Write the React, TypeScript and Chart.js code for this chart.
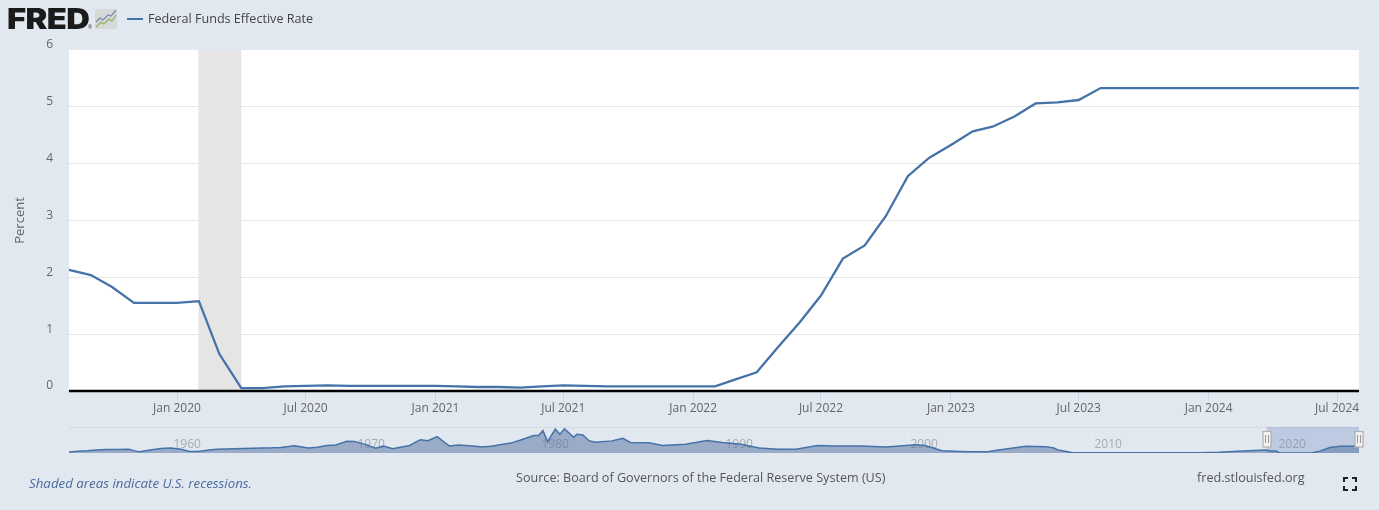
import React, { useEffect, useRef } from "react";
import { Chart, registerables } from "chart.js";

Chart.register(...registerables);

const seriesName = "Federal Funds Effective Rate";
const months = [
  "2019-08","2019-09","2019-10","2019-11","2019-12",
  "2020-01","2020-02","2020-03","2020-04","2020-05","2020-06","2020-07","2020-08","2020-09","2020-10","2020-11","2020-12",
  "2021-01","2021-02","2021-03","2021-04","2021-05","2021-06","2021-07","2021-08","2021-09","2021-10","2021-11","2021-12",
  "2022-01","2022-02","2022-03","2022-04","2022-05","2022-06","2022-07","2022-08","2022-09","2022-10","2022-11","2022-12",
  "2023-01","2023-02","2023-03","2023-04","2023-05","2023-06","2023-07","2023-08","2023-09","2023-10","2023-11","2023-12",
  "2024-01","2024-02","2024-03","2024-04","2024-05","2024-06","2024-07","2024-08",
];
const rates = [
  2.13,2.04,1.83,1.55,1.55,
  1.55,1.58,0.65,0.05,0.05,0.08,0.09,0.10,0.09,0.09,0.09,0.09,
  0.09,0.08,0.07,0.07,0.06,0.08,0.10,0.09,0.08,0.08,0.08,0.08,
  0.08,0.08,0.20,0.33,0.77,1.21,1.68,2.33,2.56,3.08,3.78,4.10,
  4.33,4.57,4.65,4.83,5.06,5.08,5.12,5.33,5.33,5.33,5.33,5.33,
  5.33,5.33,5.33,5.33,5.33,5.33,5.33,5.33,
];
const xTickMonths = ["2020-01","2020-07","2021-01","2021-07","2022-01","2022-07","2023-01","2023-07","2024-01","2024-07"];
const xTickLabels = ["Jan 2020","Jul 2020","Jan 2021","Jul 2021","Jan 2022","Jul 2022","Jan 2023","Jul 2023","Jan 2024","Jul 2024"];
const yTicks = [0, 1, 2, 3, 4, 5, 6];
const recession = ["2020-02", "2020-04"];
const yAxisTitle = "Percent";

const navMonths = [
  "1954-07","1955-01","1955-07","1956-01","1956-07","1957-01","1957-10","1958-02","1958-05","1959-01","1959-07","1960-01","1960-08","1961-01","1961-07",
  "1962-01","1962-07","1963-07","1964-01","1965-01","1965-07","1966-01","1966-10","1967-07","1968-01","1968-07","1969-01","1969-08","1970-01","1970-07",
  "1971-03","1971-08","1972-02","1972-07","1973-01","1973-08","1974-01","1974-07","1975-03","1975-09","1976-08","1976-12","1977-06","1978-01","1978-07",
  "1979-01","1979-10","1980-01","1980-04","1980-07","1980-12","1981-03","1981-06","1981-12","1982-02","1982-06","1982-10","1983-02","1984-01","1984-08",
  "1985-01","1986-01","1986-10","1987-04","1988-01","1989-03","1990-01","1991-01","1992-01","1993-01","1994-01","1995-03","1996-01","1997-07","1998-12",
  "2000-07","2001-01","2001-12","2002-12","2003-07","2004-06","2005-01","2006-07","2007-08","2008-01","2008-04","2008-10","2009-01","2015-12","2017-01",
  "2018-01","2019-07","2019-11","2020-02","2020-04","2022-01","2022-07","2023-01","2023-08","2024-08",
];
const navRates = [
  0.8,1.39,1.68,2.45,2.75,2.84,2.99,1.67,0.9,2.48,3.47,3.99,2.9,1.45,1.17,
  2.15,3.0,3.3,3.5,3.9,4.07,4.42,5.76,3.98,4.6,6.0,6.3,9.19,8.98,7.2,
  3.71,5.57,3.3,4.46,5.94,10.5,9.65,12.92,5.54,6.24,5.29,4.65,5.39,6.7,7.81,
  10.07,13.77,13.82,17.61,9.03,18.9,14.7,19.1,12.37,14.78,14.15,9.71,8.5,9.56,11.64,
  8.35,8.14,5.85,6.3,6.83,9.85,8.23,6.91,4.03,3.02,3.05,5.98,5.56,5.5,4.68,
  6.54,5.98,1.82,1.24,1.01,1.03,2.28,5.24,5.02,3.94,2.28,0.97,0.15,0.24,0.65,
  1.41,2.4,1.55,1.58,0.05,0.08,1.68,4.33,5.33,5.33,
];
const navYears = [1960, 1970, 1980, 1990, 2000, 2010, 2020];

const FONT = '"Open Sans", sans-serif';
const PAGE = "#e2e8f0";
const LINE = "#4572a7";

const toTime = (m: string) => Date.UTC(+m.slice(0, 4), +m.slice(5, 7) - 1, 1);

const plotBackground = {
  id: "plotBackground",
  beforeDraw(chart: any) {
    const { ctx, chartArea: a, scales } = chart;
    ctx.save();
    ctx.fillStyle = "#ffffff";
    ctx.fillRect(a.left, a.top, a.right - a.left, a.bottom - a.top);
    const x0 = scales.x.getPixelForValue(toTime(recession[0]));
    const x1 = scales.x.getPixelForValue(toTime(recession[1]));
    ctx.fillStyle = "#e5e5e5";
    ctx.fillRect(x0 - 0.5, a.top, x1 - x0 + 0.5, a.bottom - a.top);
    ctx.restore();
  },
};

const navDecor = {
  id: "navDecor",
  beforeDatasetsDraw(chart: any) {
    const { ctx, chartArea: a, scales } = chart;
    ctx.save();
    ctx.strokeStyle = "#d6d9de";
    ctx.lineWidth = 1;
    ctx.beginPath();
    ctx.moveTo(a.left, a.top + 0.5);
    ctx.lineTo(a.right, a.top + 0.5);
    ctx.stroke();
    ctx.font = `12px ${FONT}`;
    ctx.textBaseline = "middle";
    navYears.forEach((yr) => {
      const x = Math.round(scales.x.getPixelForValue(Date.UTC(yr, 0, 1))) + 0.5;
      ctx.strokeStyle = "#e9e9e6";
      ctx.beginPath();
      ctx.moveTo(x, a.top);
      ctx.lineTo(x, a.bottom);
      ctx.stroke();
      ctx.fillStyle = "#a9acb0";
      ctx.fillText(String(yr), x + 3, a.top + 17.5);
    });
    const s0 = scales.x.getPixelForValue(toTime(months[0]));
    const s1 = scales.x.getPixelForValue(toTime(months[months.length - 1]));
    ctx.fillStyle = "rgba(102,133,194,0.3)";
    ctx.fillRect(s0, a.top, s1 - s0, a.bottom - a.top);
    ctx.restore();
  },
  afterDatasetsDraw(chart: any) {
    const { ctx, chartArea: a, scales } = chart;
    const edges = [months[0], months[months.length - 1]];
    ctx.save();
    edges.forEach((m) => {
      const x = Math.round(scales.x.getPixelForValue(toTime(m)));
      ctx.fillStyle = "#f2f2f2";
      ctx.strokeStyle = "#b0b0b0";
      ctx.lineWidth = 1.2;
      ctx.fillRect(x - 4, a.top + 4.5, 8, 15.5);
      ctx.strokeRect(x - 4, a.top + 4.5, 8, 15.5);
      ctx.strokeStyle = "#999";
      ctx.lineWidth = 1;
      [-1, 1].forEach((d) => {
        ctx.beginPath();
        ctx.moveTo(x + d * 1.5, a.top + 8);
        ctx.lineTo(x + d * 1.5, a.top + 16);
        ctx.stroke();
      });
    });
    ctx.restore();
  },
};

const textStyle: React.CSSProperties = {
  position: "absolute",
  fontFamily: FONT,
  whiteSpace: "nowrap",
  lineHeight: "18px",
};

export default function App() {
  const mainRef = useRef<HTMLCanvasElement>(null);
  const navRef = useRef<HTMLCanvasElement>(null);

  useEffect(() => {
    const main = new Chart(mainRef.current!, {
      type: "line",
      data: {
        datasets: [
          {
            label: seriesName,
            data: months.map((m, i) => ({ x: toTime(m), y: rates[i] })),
            borderColor: LINE,
            backgroundColor: LINE,
            borderWidth: 2.3,
            pointRadius: 0,
            tension: 0,
            clip: false,
          },
        ],
      },
      options: {
        animation: false,
        responsive: false,
        events: [],
        layout: { padding: { left: 0, right: 20, top: 50, bottom: 0 } },
        plugins: { legend: { display: false }, tooltip: { enabled: false } },
        scales: {
          x: {
            type: "linear",
            min: toTime(months[0]),
            max: toTime(months[months.length - 1]),
            afterBuildTicks: (s: any) => {
              s.ticks = xTickMonths.map((m) => ({ value: toTime(m) }));
            },
            afterFit: (s: any) => {
              s.height = 119;
            },
            border: { display: false },
            grid: { drawOnChartArea: false, drawTicks: true, tickLength: 10, tickColor: "#ccd6eb", tickWidth: 1 },
            ticks: {
              autoSkip: false,
              maxRotation: 0,
              minRotation: 0,
              padding: 0,
              color: "#666666",
              font: { family: FONT, size: 12 },
              callback: (v: any) => xTickLabels[xTickMonths.findIndex((m) => toTime(m) === v)],
            },
          },
          y: {
            type: "linear",
            min: 0,
            max: 6,
            afterBuildTicks: (s: any) => {
              s.ticks = yTicks.map((v) => ({ value: v }));
            },
            afterFit: (s: any) => {
              s.width = 69;
            },
            border: { display: false },
            grid: { color: "#e6e6e6", drawTicks: false, lineWidth: (c: any) => (c.tick.value === 6 || c.tick.value === 0 ? 0 : 1) },
            title: { display: true, text: yAxisTitle, color: "#666666", font: { family: FONT, size: 13 }, padding: { top: 12, bottom: 0 } },
            ticks: {
              padding: 16,
              labelOffset: -5,
              color: "#666666",
              font: { family: FONT, size: 12 },
              callback: (v: any) => String(v),
            },
          },
        },
      },
      plugins: [
        plotBackground,
        {
          id: "zeroLine",
          afterDatasetsDraw(chart: any) {
            const { ctx, chartArea: a, scales } = chart;
            const y = scales.y.getPixelForValue(0);
            ctx.save();
            ctx.strokeStyle = "#000000";
            ctx.lineWidth = 2.4;
            ctx.beginPath();
            ctx.moveTo(a.left, y);
            ctx.lineTo(a.right, y);
            ctx.stroke();
            ctx.restore();
          },
        },
      ],
    } as any);

    const nav = new Chart(navRef.current!, {
      type: "line",
      data: {
        datasets: [
          {
            label: seriesName,
            data: navMonths.map((m, i) => ({ x: toTime(m), y: navRates[i] })),
            borderColor: LINE,
            backgroundColor: "rgba(82,110,160,0.5)",
            borderWidth: 1.5,
            pointRadius: 0,
            tension: 0,
            fill: "origin",
          },
        ],
      },
      options: {
        animation: false,
        responsive: false,
        events: [],
        layout: { padding: { left: 69, right: 20, top: 427, bottom: 57 } },
        plugins: { legend: { display: false }, tooltip: { enabled: false } },
        scales: {
          x: { type: "linear", display: false, min: toTime(navMonths[0]), max: toTime(navMonths[navMonths.length - 1]) },
          y: { type: "linear", display: false, min: 0, max: 20.5 },
        },
      },
      plugins: [navDecor],
    } as any);

    return () => {
      main.destroy();
      nav.destroy();
    };
  }, []);

  return (
    <div style={{ position: "absolute", left: 0, top: 0, width: 1379, height: 510, background: PAGE, overflow: "hidden" }}>
      <canvas ref={mainRef} width={1379} height={510} style={{ position: "absolute", left: 0, top: 0 }} />
      <canvas ref={navRef} width={1379} height={510} style={{ position: "absolute", left: 0, top: 0 }} />

      <div style={{ ...textStyle, left: 7, top: 2, fontFamily: "Inter, sans-serif", fontSize: 28, lineHeight: "34px", fontWeight: 900, color: "#1a1a1a", letterSpacing: -0.5, transform: "scaleX(1.17)", transformOrigin: "left center" }}>FRED</div>
      <div style={{ ...textStyle, left: 88, top: 24, fontSize: 5, lineHeight: "7px", color: "#444444" }}>®</div>
      <svg style={{ position: "absolute", left: 94, top: 8 }} width="24" height="22" viewBox="0 0 24 22">
        <rect x="1" y="1" width="22" height="20" rx="2" fill="#d6d9d8" />
        <polyline points="2,14 6,10 9,12 14,7 17,8 22,2" fill="none" stroke="#6f8fb5" strokeWidth="1.2" />
        <polyline points="2,19 7,14 10,16 15,11 18,13 22,7" fill="none" stroke="#8fae5f" strokeWidth="1.2" />
      </svg>
      <svg style={{ position: "absolute", left: 127, top: 17 }} width="16" height="4">
        <line x1="0" y1="2" x2="16" y2="2" stroke={LINE} strokeWidth="2" />
      </svg>
      <div style={{ ...textStyle, left: 148, top: 10, fontSize: 12.6, color: "#444444" }}>{seriesName}</div>
      <div style={{ ...textStyle, left: 29, top: 474, fontSize: 13.3, fontStyle: "italic", color: "#4a6a9c" }}>Shaded areas indicate U.S. recessions.</div>
      <div style={{ ...textStyle, left: 516, top: 469, fontSize: 12.6, color: "#555555" }}>Source: Board of Governors of the Federal Reserve System (US)</div>
      <div style={{ ...textStyle, left: 1197, top: 469, fontSize: 12.6, color: "#555555" }}>fred.stlouisfed.org</div>
      <svg style={{ position: "absolute", left: 1343, top: 477 }} width="14" height="14" viewBox="0 0 14 14">
        <path d="M1 5V1H5M9 1H13V5M13 9V13H9M5 13H1V9" fill="none" stroke="#222" strokeWidth="2" />
      </svg>
    </div>
  );
}
